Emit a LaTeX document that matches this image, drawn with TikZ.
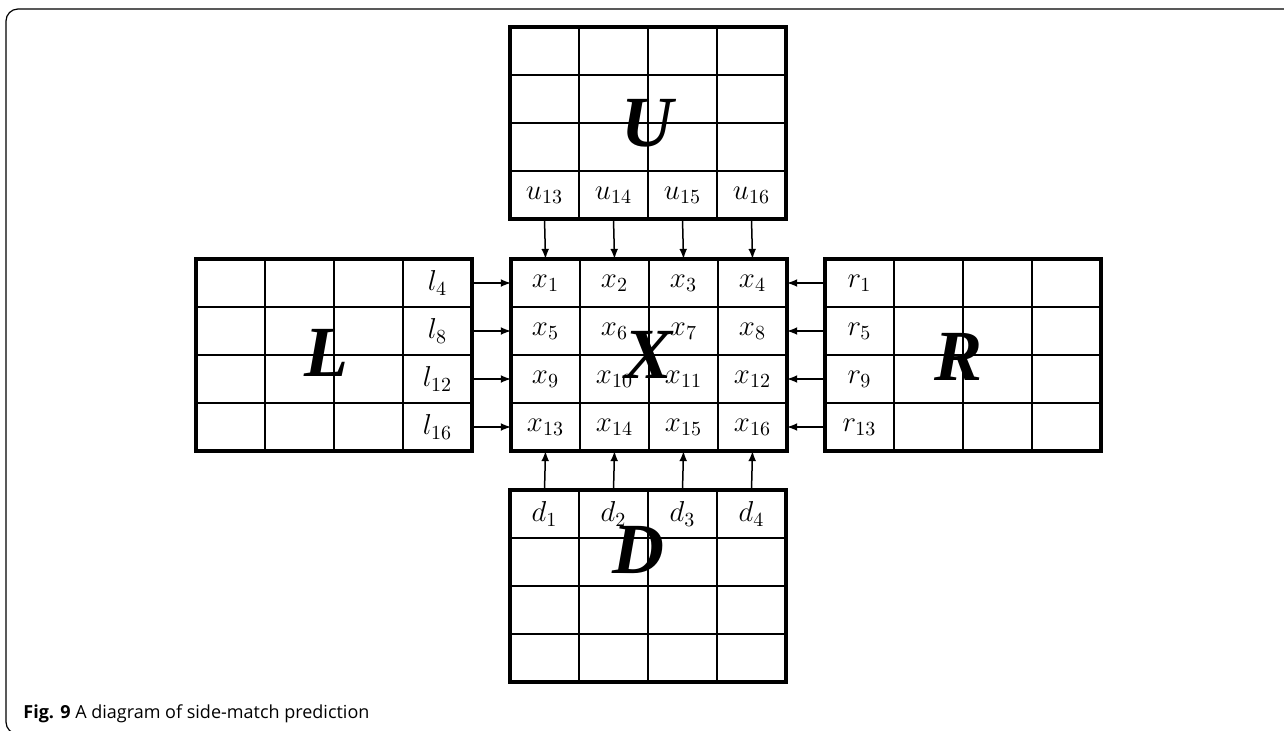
\documentclass[tikz,border=0pt]{standalone}
\usepackage{fontspec}
\setmainfont{Liberation Serif}
\newfontfamily\capfont{Open Sans}
\usetikzlibrary{arrows, positioning}

\tikzset{
  cell/.style={draw, line width=0.7pt, minimum width=34.5pt, minimum height=24pt,
    inner sep=0pt, outer sep=0pt, font=\fontsize{14}{16}\selectfont},
  outline/.style={draw, line width=1.6pt},
  bigletter/.style={font=\fontsize{36}{36}\selectfont\bfseries\itshape},
  feed/.style={->, >=latex, line width=0.75pt}
}

% 4x4 block: name, left, top, cell text
\newcommand{\blockgrid}[4]{%
  \foreach \row in {1,...,4}
    \foreach \col in {1,...,4}
      \node[cell] (#1-\row-\col) at ({#2+69*(\col-0.5)},{#3+48*(\row-0.5)}) {#4};
  \draw[outline] (#1-1-1.north west) rectangle (#1-4-4.south east);
}

\begin{document}
\begin{tikzpicture}[x=0.5pt, y=-0.5pt]
  \useasboundingbox (0,0) rectangle (1284,730);
  \begin{scope}
    \clip (0,0) rectangle (1284,730);
    \draw[line width=0.6pt, rounded corners=6pt] (6,9) rectangle (1310,734);
  \end{scope}

  % the five blocks
  \blockgrid{U}{510}{27}{\ifnum\row=4 $u_{\the\numexpr12+\col\relax}$\fi}
  \blockgrid{X}{511}{259}{$x_{\the\numexpr4*\row-4+\col\relax}$}
  \blockgrid{L}{196}{259}{\ifnum\col=4 $l_{\the\numexpr4*\row\relax}$\fi}
  \blockgrid{R}{825}{259}{\ifnum\col=1 $r_{\the\numexpr4*\row-3\relax}$\fi}
  \blockgrid{D}{510}{490}{\ifnum\row=1 $d_{\col}$\fi}

  \node[bigletter] (Uname) at (647,123) {U};
  \node[bigletter] (Lname) at (326,353) {L};
  \node[bigletter] (Xname) at (649,355) {X};
  \node[bigletter] (Rname) at (958,357) {R};
  \node[bigletter] (Dname) at (638,550) {D};

  % side pixels feeding X
  \foreach \i in {1,...,4} {
    \draw[feed] (U-4-\i.south) -- (X-1-\i.north);
    \draw[feed] (D-1-\i.north) -- (X-4-\i.south);
    \draw[feed] (L-\i-4.east) -- (X-\i-1.west);
    \draw[feed] (R-\i-1.west) -- (X-\i-4.east);
  }

  \node[anchor=base west, inner sep=0pt, font=\capfont\fontsize{9}{11}\selectfont]
    (caption) at (23,718) {\textbf{Fig. 9} A diagram of side-match prediction};
\end{tikzpicture}
\end{document}
